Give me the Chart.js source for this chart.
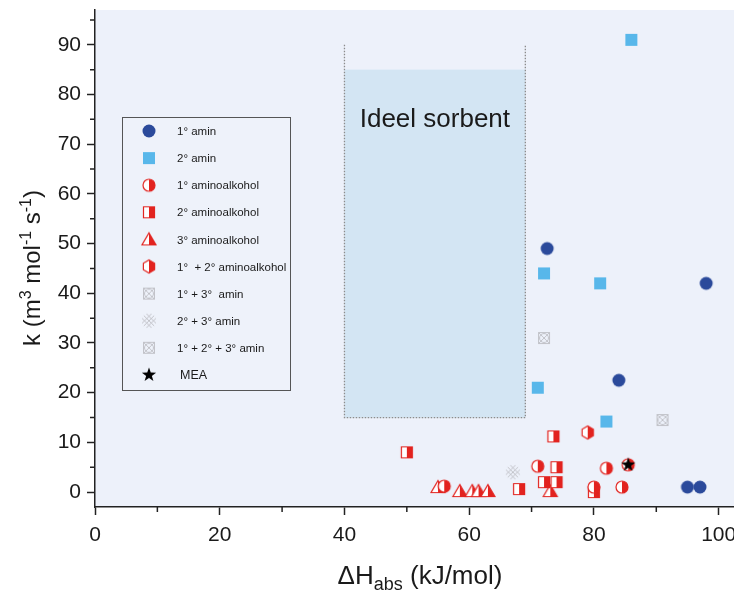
<!DOCTYPE html>
<html>
<head>
<meta charset="utf-8">
<style>
  html, body { margin: 0; padding: 0; background: #fff; }
</style>
</head>
<body>
<canvas id="sorbentChart" width="734" height="594"></canvas>
<script src="https://cdn.jsdelivr.net/npm/chart.js"></script>
<script>
// values (x = ΔHabs in kJ/mol, y = k)
const amin1X = [72.5, 98, 84, 95, 97];
const amin1Y = [49, 42, 22.5, 1, 1];
const amin2X = [86, 72, 81, 71, 82];
const amin2Y = [91, 44, 42, 21, 14.2];
const aminoalk1X = [71, 82, 84.5, 56, 80, 85.5];
const aminoalk1Y = [5.2, 4.8, 1, 1.2, 1, 5.5];
const aminoalk2X = [50, 73.5, 74, 72, 74, 68, 80];
const aminoalk2Y = [8, 11.2, 5, 2, 2, 0.6, 0];
const aminoalk3X = [55, 58.5, 60.5, 61.5, 63, 73];
const aminoalk3Y = [1, 0.2, 0.2, 0.2, 0.2, 0.2];
const aminoalk12X = [79];
const aminoalk12Y = [12];
const amin13X = [72];
const amin13Y = [31];
const amin23X = [67];
const amin23Y = [4];
const amin123X = [91];
const amin123Y = [14.5];
const meaX = [85.5];
const meaY = [5.5];

const legendLabels = ['1° amin', '2° amin', '1° aminoalkohol', '2° aminoalkohol', '3° aminoalkohol',
  '1°  + 2° aminoalkohol', '1° + 3°  amin', '2° + 3° amin', '1° + 2° + 3° amin', 'MEA'];
const xTicks = [0, 20, 40, 60, 80, 100];
const yTicks = [0, 10, 20, 30, 40, 50, 60, 70, 80, 90];
const xMinor = [10, 30, 50, 70, 90];
const yMinor = [5, 15, 25, 35, 45, 55, 65, 75, 85, 95];

const FONT = '"Liberation Sans", Arial, sans-serif';
const RED = '#e2231f';
const GREY = '#c2c3c9';

// little canvases used as point styles
function marker(kind) {
  const s = 18, m = 9;
  const c = document.createElement('canvas');
  c.width = s; c.height = s;
  const g = c.getContext('2d');
  g.lineWidth = 1.2;

  function half(path) {
    path(); g.fillStyle = '#fff'; g.fill();
    g.save();
    g.beginPath(); g.rect(m, 0, m, s); g.clip();
    path(); g.fillStyle = RED; g.fill();
    g.restore();
    path(); g.strokeStyle = RED; g.stroke();
  }
  const circle = r => () => { g.beginPath(); g.arc(m, m, r, 0, Math.PI * 2); };
  const square = h => () => { g.beginPath(); g.rect(m - h, m - h, h * 2, h * 2); };
  const tri = () => { g.beginPath(); g.moveTo(m, m - 6.5); g.lineTo(m + 7, m + 5.5); g.lineTo(m - 7, m + 5.5); g.closePath(); };
  const hex = () => {
    g.beginPath();
    for (let i = 0; i < 6; i++) {
      const a = -Math.PI / 2 + i * Math.PI / 3;
      g.lineTo(m + 6.5 * Math.cos(a), m + 6.5 * Math.sin(a));
    }
    g.closePath();
  };

  if (kind === 'amin1') { circle(6.5)(); g.fillStyle = '#2b4a9b'; g.fill(); }
  else if (kind === 'amin2') { square(6)(); g.fillStyle = '#58b7ea'; g.fill(); }
  else if (kind === 'aa1') half(circle(6));
  else if (kind === 'aa2') half(square(5.5));
  else if (kind === 'aa3') half(tri);
  else if (kind === 'aa12') half(hex);
  else if (kind === 'boxed') {
    g.strokeStyle = GREY; g.lineWidth = 1;
    g.strokeRect(m - 5.5, m - 5.5, 11, 11);
    g.beginPath(); g.arc(m, m, 4.5, 0, Math.PI * 2); g.stroke();
    g.beginPath();
    g.moveTo(m - 5.5, m - 5.5); g.lineTo(m + 5.5, m + 5.5);
    g.moveTo(m + 5.5, m - 5.5); g.lineTo(m - 5.5, m + 5.5);
    g.stroke();
  } else if (kind === 'lattice') {
    // crosshatch clipped to a round blob
    g.strokeStyle = GREY; g.lineWidth = 1;
    g.save();
    g.beginPath(); g.arc(m, m, 7.5, 0, Math.PI * 2); g.clip();
    g.beginPath();
    [-4.5, 0, 4.5].forEach(k => {
      g.moveTo(m - 9, m - 9 + k); g.lineTo(m + 9, m + 9 + k);
      g.moveTo(m + 9, m - 9 + k); g.lineTo(m - 9, m + 9 + k);
    });
    g.stroke();
    g.restore();
  } else if (kind === 'star') {
    g.beginPath();
    for (let i = 0; i < 10; i++) {
      const a = -Math.PI / 2 + i * Math.PI / 5;
      const r = i % 2 ? 3 : 7.5;
      g.lineTo(m + r * Math.cos(a), m + r * Math.sin(a));
    }
    g.closePath(); g.fillStyle = '#000'; g.fill();
  }
  return c;
}

function pts(xs, ys) { return xs.map((x, i) => ({ x: x, y: ys[i] })); }

const seriesX = [amin1X, amin2X, aminoalk1X, aminoalk2X, aminoalk3X, aminoalk12X, amin13X, amin23X, amin123X, meaX];
const seriesY = [amin1Y, amin2Y, aminoalk1Y, aminoalk2Y, aminoalk3Y, aminoalk12Y, amin13Y, amin23Y, amin123Y, meaY];
const kinds = ['amin1', 'amin2', 'aa1', 'aa2', 'aa3', 'aa12', 'boxed', 'lattice', 'boxed', 'star'];

const datasets = legendLabels.map((label, i) => ({
  label: label,
  data: pts(seriesX[i], seriesY[i]),
  pointStyle: marker(kinds[i]),
  pointRadius: 7,
  order: i === 9 ? -1 : i
}));

const plotBg = {
  id: 'plotBg',
  beforeDraw(chart) {
    const a = chart.chartArea, ctx = chart.ctx;
    ctx.save();
    ctx.fillStyle = '#edf1fa';
    ctx.fillRect(a.left, a.top, a.right - a.left + 1, a.bottom - a.top);
    ctx.restore();
  }
};

// the "Ideel sorbent" window
const sorbentBox = {
  id: 'sorbentBox',
  beforeDatasetsDraw(chart) {
    const ctx = chart.ctx, x = chart.scales.x, y = chart.scales.y;
    const l = x.getPixelForValue(40), r = x.getPixelForValue(69);
    const b = y.getPixelForValue(15), t = y.getPixelForValue(85), top = y.getPixelForValue(90);
    ctx.save();
    ctx.fillStyle = '#d3e5f3';
    ctx.fillRect(l, t, r - l, b - t);
    ctx.strokeStyle = '#8c8c8c';
    ctx.lineWidth = 1.3;
    ctx.setLineDash([1.5, 1.5]);
    ctx.beginPath();
    ctx.moveTo(l, top); ctx.lineTo(l, b); ctx.lineTo(r, b); ctx.lineTo(r, top);
    ctx.stroke();
    ctx.setLineDash([]);
    ctx.fillStyle = '#1a1a1a';
    ctx.font = '26px ' + FONT;
    ctx.textAlign = 'center';
    ctx.textBaseline = 'alphabetic';
    ctx.fillText('Ideel sorbent', (l + r) / 2, y.getPixelForValue(73.5));
    ctx.restore();
  }
};

const extras = {
  id: 'extras',
  afterDraw(chart) {
    const ctx = chart.ctx, x = chart.scales.x, y = chart.scales.y, a = chart.chartArea;
    ctx.save();
    // minor ticks
    ctx.strokeStyle = '#222';
    ctx.lineWidth = 1.5;
    ctx.beginPath();
    xMinor.forEach(v => { const p = x.getPixelForValue(v); ctx.moveTo(p, a.bottom); ctx.lineTo(p, a.bottom + 5); });
    yMinor.forEach(v => { const p = y.getPixelForValue(v); ctx.moveTo(a.left, p); ctx.lineTo(a.left - 5, p); });
    ctx.stroke();

    // axis titles with sub/superscripts
    ctx.fillStyle = '#1a1a1a';
    ctx.textBaseline = 'alphabetic';
    ctx.textAlign = 'left';
    function run(parts) {
      let w = 0;
      parts.forEach(p => { ctx.font = p[1]; w += ctx.measureText(p[0]).width; });
      let cx = -w / 2;
      parts.forEach(p => { ctx.font = p[1]; ctx.fillText(p[0], cx, p[2]); cx += ctx.measureText(p[0]).width; });
    }
    ctx.save();
    ctx.translate(420, 584);
    run([['ΔH', '26px ' + FONT, 0], ['abs', '18px ' + FONT, 6], [' (kJ/mol)', '26px ' + FONT, 0]]);
    ctx.restore();
    ctx.save();
    ctx.translate(40, 268);
    ctx.rotate(-Math.PI / 2);
    const big = '24px ' + FONT, small = '16px ' + FONT;
    run([['k (m', big, 0], ['3', small, -9], [' mol', big, 0], ['-1', small, -9], [' s', big, 0], ['-1', small, -9], [')', big, 0]]);
    ctx.restore();

    // legend box
    ctx.fillStyle = '#eef2fa';
    ctx.fillRect(122, 117, 168, 273);
    ctx.strokeStyle = '#555';
    ctx.lineWidth = 1;
    ctx.strokeRect(122.5, 117.5, 168, 273);
    ctx.textBaseline = 'middle';
    chart.data.datasets.forEach((ds, i) => {
      const cy = 131 + i * 27.1;
      const img = ds.pointStyle;
      ctx.drawImage(img, 149 - img.width / 2, cy - img.height / 2);
      ctx.fillStyle = '#1a1a1a';
      ctx.font = (i === 9 ? '12.5px ' : '11.5px ') + FONT;
      ctx.fillText(ds.label, i === 9 ? 180 : 177, cy + 1);
    });
    ctx.restore();
  }
};

function noPad(s) {
  s.paddingTop = 0; s.paddingBottom = 0; s.paddingLeft = 0; s.paddingRight = 0;
}

new Chart(document.getElementById('sorbentChart'), {
  type: 'scatter',
  data: { datasets: datasets },
  options: {
    responsive: false,
    animation: false,
    devicePixelRatio: 1,
    layout: { autoPadding: false, padding: { top: 10, right: 1, left: 0, bottom: 0 } },
    plugins: { legend: { display: false }, tooltip: { enabled: false } },
    scales: {
      x: {
        type: 'linear', min: 0, max: 102.3,
        afterBuildTicks: s => { s.ticks = xTicks.map(v => ({ value: v })); },
        afterFit: s => { s.height = 87; noPad(s); },
        ticks: { color: '#1a1a1a', font: { size: 21, family: FONT }, padding: 8, maxRotation: 0, autoSkip: false },
        grid: { drawOnChartArea: false, drawTicks: true, tickLength: 8, tickColor: '#222', tickWidth: 1.5 },
        border: { display: true, color: '#222', width: 1.5 }
      },
      y: {
        type: 'linear', min: -3, max: 97,
        afterBuildTicks: s => { s.ticks = yTicks.map(v => ({ value: v })); },
        afterFit: s => { s.width = 95; noPad(s); },
        ticks: { color: '#1a1a1a', font: { size: 21, family: FONT }, padding: 6, autoSkip: false },
        grid: { drawOnChartArea: false, drawTicks: true, tickLength: 8, tickColor: '#222', tickWidth: 1.5 },
        border: { display: true, color: '#222', width: 1.5 }
      }
    }
  },
  plugins: [plotBg, sorbentBox, extras]
});
</script>
</body>
</html>
